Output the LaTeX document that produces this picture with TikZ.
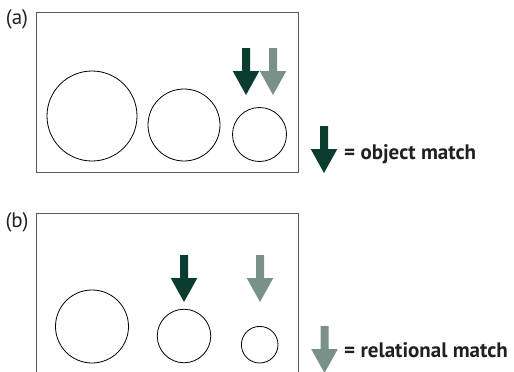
\documentclass[tikz,border=0pt]{standalone}
\usepackage{fontspec}
\setmainfont{PT Sans}

\definecolor{objgreen}{HTML}{0A3D2F}
\definecolor{relgreen}{HTML}{7A9187}
\definecolor{framegray}{HTML}{5A5A5A}
\definecolor{labelgray}{HTML}{231F20}

\begin{document}
\begin{tikzpicture}[x=1pt,y=-1pt,
	ball/.style={draw,circle,inner sep=0,line width=0.8pt},
	panel/.style={draw=framegray,line width=1pt},
	tag/.style={font=\fontsize{21}{21}\selectfont,text=labelgray},
	legend/.style={anchor=base west,inner sep=0,font=\fontsize{21}{21}\selectfont\bfseries,text=labelgray},
	pics/match/.style={code={
		\fill[#1] (-4,0) -- (4,0) -- (4,23) -- (13.3,23) -- (0,47) -- (-13.3,23) -- (-4,23) -- cycle;
	}}
]

\useasboundingbox (0,0) rectangle (514,372);
\clip (0,0) rectangle (514,372);

% Panel (a): sizes shrink to the right
\draw[panel] (36,12) rectangle (298,172);
\node[tag] (taga) at (17,19) {(a)};
\foreach \x/\y/\d [count=\i] in {92/116/90, 184/125/72, 259.5/134.5/54} {
	\node[ball,minimum size=\d] (A\i) at (\x,\y) {};
}
\pic (oa) at (246,48) {match=objgreen};
\pic (ra) at (273,48) {match=relgreen};

% Panel (b): box runs past the lower edge
\draw[panel] (36,380) |- (298,213) -- (298,380);
\node[tag] (tagb) at (17,222) {(b)};
\foreach \x/\y/\d [count=\i] in {92/326.5/73, 184/336/53.5, 259.7/344.7/36.6} {
	\node[ball,minimum size=\d] (B\i) at (\x,\y) {};
}
\pic (ob) at (184,255) {match=objgreen};
\pic (rb) at (260,255) {match=relgreen};

% Key
\pic (okey) at (324,126) {match=objgreen};
\node[legend] (objtext) at (344,159) {= object match};
\pic (rkey) at (324.5,326) {match=relgreen};
\node[legend] (reltext) at (344,357) {= relational match};

\end{tikzpicture}
\end{document}
